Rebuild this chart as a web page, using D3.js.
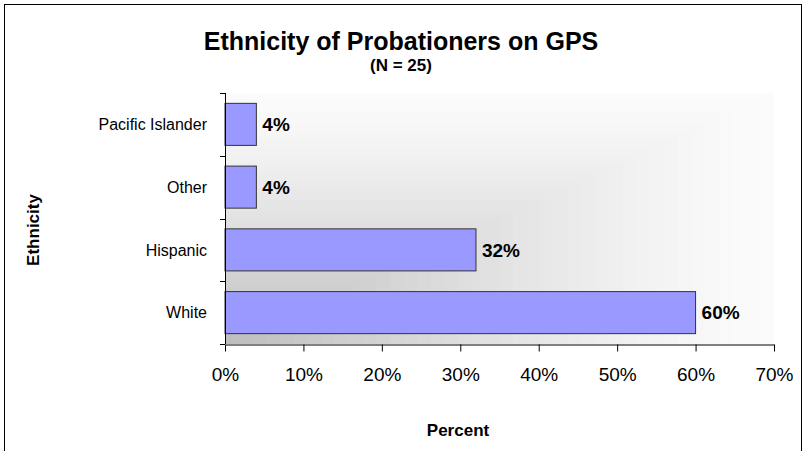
<!DOCTYPE html>
<meta charset="utf-8">

<style>

    body {
        margin: 0;
        background: #fff;
    }

    text {
        font-family: Arial, "Liberation Sans", sans-serif;
        fill: #000;
    }

    .bars rect {
        fill: #9999ff;
        stroke: #333;
        stroke-width: 1px;
    }

</style>

<svg width="804" height="451"></svg>

<script src="https://d3js.org/d3.v7.min.js"></script>

<script>

    // values
    var categories = ["Pacific Islander", "Other", "Hispanic", "White"];
    var percents = [0.04, 0.04, 0.32, 0.60];
    var xTicks = [0, 0.1, 0.2, 0.3, 0.4, 0.5, 0.6, 0.7];

    var svg = d3.select("svg");

    // outer frame of the chart
    svg.append("rect")
        .attr("x", 4.5)
        .attr("y", 4.5)
        .attr("width", 797)
        .attr("height", 470)
        .attr("fill", "none")
        .attr("stroke", "#000")
        .attr("stroke-width", 1);

    var x = d3.scaleLinear()
        .domain([0, 0.7])
        .range([225, 774]);

    var y = d3.scaleBand()
        .domain(categories)
        .range([93, 344])
        .paddingInner(0.33)
        .paddingOuter(0.165);

    var plotLeft = x.range()[0], plotRight = x.range()[1];
    var plotTop = y.range()[0], plotBottom = y.range()[1];

    // plot background: stepped grey fading from bottom-left to top-right
    var steps = 40;
    var shade = d3.interpolateRgb("#fbfbfb", "#bebebe");
    var bg = svg.append("g").attr("class", "bg");
    for (var i = 0; i < steps; i++) {
        var f = 1 - i / steps;
        bg.append("rect")
            .attr("x", plotLeft)
            .attr("y", plotBottom - (plotBottom - plotTop) * f)
            .attr("width", (plotRight - plotLeft) * f)
            .attr("height", (plotBottom - plotTop) * f)
            .attr("fill", shade(Math.pow(i / (steps - 1), 1.3)));
    }

    // bars
    var data = categories.map(function (c, i) {
        return {name: c, value: percents[i]};
    });

    svg.append("g")
        .attr("class", "bars")
        .selectAll("rect")
        .data(data)
        .enter().append("rect")
        .attr("x", x(0))
        .attr("y", function (d) { return y(d.name); })
        .attr("width", function (d) { return x(d.value) - x(0); })
        .attr("height", y.bandwidth());

    // value labels
    svg.append("g")
        .selectAll("text")
        .data(data)
        .enter().append("text")
        .attr("x", function (d) { return x(d.value) + 6; })
        .attr("y", function (d) { return y(d.name) + y.bandwidth() / 2; })
        .attr("dy", "0.36em")
        .style("font-size", "19px")
        .style("font-weight", "bold")
        .text(function (d) { return d3.format(".0%")(d.value); });

    // y axis: line, ticks between categories, labels
    var yAxis = svg.append("g").attr("stroke", "#000");
    yAxis.append("line")
        .attr("x1", plotLeft + 0.5).attr("x2", plotLeft + 0.5)
        .attr("y1", plotTop).attr("y2", plotBottom);

    var bounds = categories.map(function (c) {
        return y(c) - y.step() * y.paddingInner() / 2;
    });
    bounds.push(plotBottom);

    yAxis.selectAll(".tick")
        .data(bounds)
        .enter().append("line")
        .attr("x1", plotLeft - 5).attr("x2", plotLeft)
        .attr("y1", function (d) { return Math.round(d) + 0.5; })
        .attr("y2", function (d) { return Math.round(d) + 0.5; });

    svg.append("g")
        .selectAll("text")
        .data(categories)
        .enter().append("text")
        .attr("x", plotLeft - 18)
        .attr("y", function (d) { return y(d) + y.bandwidth() / 2; })
        .attr("dy", "0.36em")
        .attr("text-anchor", "end")
        .style("font-size", "16px")
        .text(function (d) { return d; });

    // x axis
    var xAxis = d3.axisBottom(x)
        .tickValues(xTicks)
        .tickFormat(d3.format(".0%"))
        .tickSize(7)
        .tickSizeOuter(0)
        .tickPadding(16);

    var gx = svg.append("g")
        .attr("transform", "translate(0," + (plotBottom + 0.5) + ")")
        .call(xAxis);

    gx.select(".domain")
        .attr("stroke", "#000");
    gx.selectAll(".tick line")
        .attr("stroke", "#000");
    gx.selectAll(".tick text")
        .attr("fill", "#000")
        .style("font-family", "Arial, 'Liberation Sans', sans-serif")
        .style("font-size", "19px");

    // titles
    svg.append("text")
        .attr("x", 401)
        .attr("y", 50)
        .attr("text-anchor", "middle")
        .style("font-size", "25px")
        .style("font-weight", "bold")
        .text("Ethnicity of Probationers on GPS");

    svg.append("text")
        .attr("x", 401)
        .attr("y", 71)
        .attr("text-anchor", "middle")
        .style("font-size", "17px")
        .style("font-weight", "bold")
        .text("(N = 25)");

    svg.append("text")
        .attr("x", 458)
        .attr("y", 436)
        .attr("text-anchor", "middle")
        .style("font-size", "17px")
        .style("font-weight", "bold")
        .text("Percent");

    svg.append("text")
        .attr("transform", "translate(39,230) rotate(-90)")
        .attr("text-anchor", "middle")
        .style("font-size", "17px")
        .style("font-weight", "bold")
        .text("Ethnicity");

</script>
